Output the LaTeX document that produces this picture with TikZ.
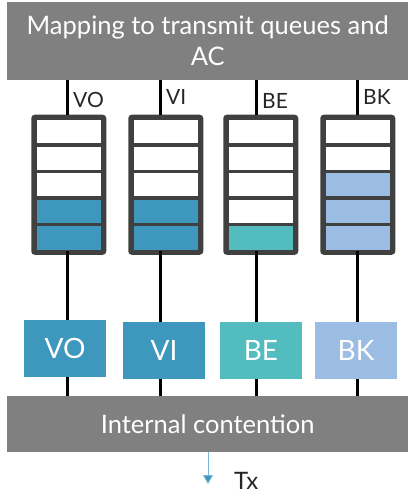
\documentclass[tikz,border=0pt]{standalone}
\usepackage{fontspec}
\setmainfont{Lato}
\usetikzlibrary{arrows.meta}
\definecolor{hdr}{HTML}{808080}
\definecolor{qblue}{HTML}{3E97BD}
\definecolor{qteal}{HTML}{52BCBE}
\definecolor{qlight}{HTML}{9BBDE3}
\definecolor{qframe}{HTML}{404040}
\tikzset{
  bar/.style={fill=hdr, draw=none, text=white, inner sep=0pt},
  cell/.style={draw=qframe, line width=3.5pt, minimum width=68pt, minimum height=26.6pt, inner sep=0pt, anchor=north west},
  acbox/.style={draw=none, minimum width=82pt, minimum height=57pt, text=white, inner sep=0pt, font=\fontsize{28}{28}\selectfont},
  link/.style={line width=3pt, black},
  qlabel/.style={font=\fontsize{21}{21}\selectfont, text=black!85, inner sep=0pt, anchor=west}
}
\begin{document}
\begin{tikzpicture}[x=1pt,y=-1pt]
\useasboundingbox (0,0) rectangle (408,494);
% top and bottom bars
\node[bar, minimum width=401pt, minimum height=78pt, anchor=north west, align=center, font=\fontsize{25.5}{31}\selectfont] (map) at (7,2) {Mapping to transmit queues and\\AC};
\node[bar, minimum width=401pt, minimum height=56pt, anchor=north west, font=\fontsize{25.5}{25.5}\selectfont] (ic) at (7,396) {Internal contention};
% queues
\foreach \n/\x/\ca/\cb/\cc/\cd/\ce/\cx/\lab/\ly in {
  vo/33/white/white/white/qblue/qblue/67/VO/100,
  vi/130/white/white/white/qblue/qblue/160/VI/97,
  be/225/white/white/white/white/qteal/256/BE/101,
  bk/322/white/white/qlight/qlight/qlight/357/BK/97}{
  \node[cell, fill=\ca] (\n1) at (\x,116.5) {};
  \node[cell, fill=\cb] (\n2) at (\x,143.1) {};
  \node[cell, fill=\cc] (\n3) at (\x,169.7) {};
  \node[cell, fill=\cd] (\n4) at (\x,196.3) {};
  \node[cell, fill=\ce] (\n5) at (\x,222.9) {};
  \draw[draw=qframe, line width=3.5pt, rounded corners=2pt] (\n1.north west) rectangle (\n5.south east);
  \coordinate (\n top) at (\cx,80);
  \coordinate (\n qt) at (\cx,115);
  \coordinate (\n qb) at (\cx,251);
  \node[qlabel] (\n lab) at (\cx+6,\ly) {\lab};
}
\node[acbox, fill=qblue] (acvo) at (65,348.5) {VO};
\node[acbox, fill=qblue] (acvi) at (164,350.5) {VI};
\node[acbox, fill=qteal] (acbe) at (261,350.5) {BE};
\node[acbox, fill=qlight] (acbk) at (356,350.5) {BK};
% links
\foreach \n in {vo,vi,be,bk}{
  \draw[link] (\n top) -- (\n qt);
}
\draw[link] (voqb) -- (voqb |- acvo.north);
\draw[link] (viqb) -- (viqb |- acvi.north);
\draw[link] (beqb) -- (beqb |- acbe.north);
\draw[link] (bkqb) -- (bkqb |- acbk.north);
\draw[link] (voqb |- acvo.south) -- (voqb |- ic.north);
\draw[link] (viqb |- acvi.south) -- (viqb |- ic.north);
\draw[link] (beqb |- acbe.south) -- (beqb |- ic.north);
\draw[link] (bkqb |- acbk.south) -- (bkqb |- ic.north);
% output
\coordinate (txend) at (208,484);
\draw[qblue!70, line width=0.8pt, -{Triangle[length=9pt,width=10pt,fill=qblue]}] (208,452) -- (txend);
\node[font=\fontsize{24}{24}\selectfont, text=black!85, anchor=west, inner sep=0pt] (tx) at (234,481) {Tx};
\end{tikzpicture}
\end{document}
